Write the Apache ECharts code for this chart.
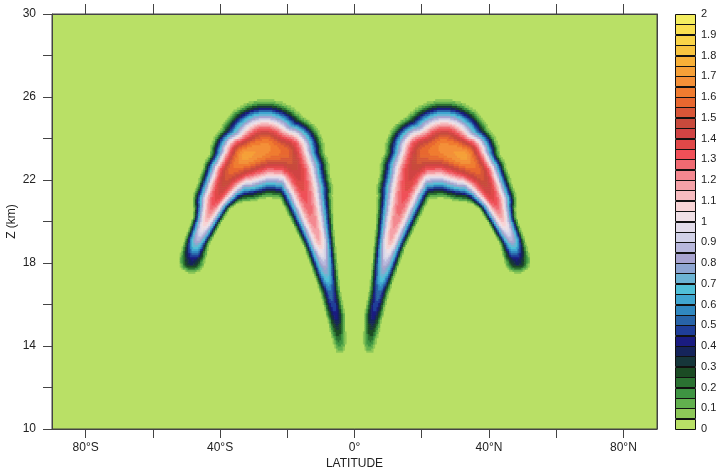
<!DOCTYPE html>
<html>
<head>
<meta charset="utf-8">
<title>Z / latitude section</title>
<script src="https://cdn.jsdelivr.net/npm/echarts@6/dist/echarts.min.js"></script>
<style>
  html, body { margin: 0; padding: 0; background: #fff; }
  #chart { width: 721px; height: 473px; }
</style>
</head>
<body>
<div id="chart"></div>
<script>
// contour bands 0 .. 2, step 0.05 (index 0 = 0-0.05)
const levelStep = 0.05
const levelColors = [
  '#b9e066', '#8dc858', '#62b04e', '#3e9442', '#2b7232', '#1b4b24', '#16363a', '#15245a',
  '#1a1c80', '#1f3e98', '#2864a8', '#3088c0', '#40a6d0', '#50c0d8', '#6cb4d4', '#8ea6d2',
  '#a8a4d0', '#b8b8dc', '#d2d2e8', '#e2dcea', '#f0e0e6', '#f8d4d6', '#f7bcc0', '#f5a2a8',
  '#f48890', '#f06a72', '#f05058', '#e04848', '#d04444', '#c84a3c', '#d85638', '#e86830',
  '#f07c30', '#f49038', '#f6a038', '#f8b038', '#f8c440', '#fad448', '#fae050', '#f4ee60'
]

// ridge of each arch:
// [lat, z (km), peak value, half width on outer side (km), half width on inner side (km)]
const southArch = [
  [-48.4, 18.15, 0.4, 0.72, 0.72],
  [-46.86, 19.11, 0.85, 0.62, 0.65],
  [-44.2, 19.98, 1.1, 0.72, 0.68],
  [-41.5, 20.99, 1.35, 1.15, 0.84],
  [-37.34, 22.34, 1.55, 1.35, 1.6],
  [-32.58, 23.2, 1.72, 1.8, 2.35],
  [-26.63, 23.54, 1.68, 2.47, 2.47],
  [-20.68, 23.35, 1.58, 2.0, 2.38],
  [-17.4, 22.48, 1.45, 1.68, 1.52],
  [-15.32, 21.52, 1.35, 1.5, 1.25],
  [-10.56, 19.11, 1.15, 0.8, 0.85],
  [-7.29, 16.70, 0.55, 0.52, 0.54],
  [-5.5, 15.40, 0.42, 0.5, 0.5],
  [-4.31, 13.95, 0.15, 0.35, 0.35]
]
const northArch = [
  [48.4, 18.15, 0.4, 0.72, 0.72],
  [46.86, 19.11, 0.85, 0.62, 0.65],
  [44.2, 19.98, 1.1, 0.72, 0.68],
  [41.5, 20.99, 1.35, 1.15, 0.84],
  [37.34, 22.34, 1.55, 1.35, 1.6],
  [32.58, 23.2, 1.72, 1.8, 2.35],
  [26.63, 23.54, 1.68, 2.47, 2.47],
  [20.68, 23.35, 1.58, 2.0, 2.38],
  [17.4, 22.48, 1.45, 1.68, 1.52],
  [15.32, 21.52, 1.35, 1.5, 1.25],
  [10.56, 19.11, 1.15, 0.8, 0.85],
  [7.29, 16.70, 0.55, 0.52, 0.54],
  [5.5, 15.40, 0.42, 0.5, 0.5],
  [4.31, 13.95, 0.15, 0.35, 0.35]
]

const latTicks = [-80, -60, -40, -20, 0, 20, 40, 60, 80]
const latLabelValues = [-80, -40, 0, 40, 80]
const latLabelText = ['80°S', '40°S', '0°', '40°N', '80°N']
const zLabelValues = [10, 14, 18, 22, 26, 30]

// sampling of the section
const DLAT = 0.5
const DZ = 0.1
const KM_PER_DEG = 0.162 // screen aspect, lat degree vs km

// ridge in screen-like units plus the tangent at every vertex
function prepareArch(arch) {
  const pts = arch.map(p => [p[0] * KM_PER_DEG, p[1]])
  const dirs = []
  for (let i = 0; i < pts.length - 1; i++) {
    const dx = pts[i + 1][0] - pts[i][0]
    const dy = pts[i + 1][1] - pts[i][1]
    const l = Math.sqrt(dx * dx + dy * dy)
    dirs.push([dx / l, dy / l])
  }
  const tans = pts.map((p, i) => {
    const a = dirs[Math.max(0, i - 1)]
    const b = dirs[Math.min(dirs.length - 1, i)]
    return [a[0] + b[0], a[1] + b[1]]
  })
  return { arch, pts, tans }
}

// outerSign: +1 when the outer side lies left of the listed direction
function archValue(ridge, outerSign, lat, z) {
  const { arch, pts, tans } = ridge
  let best = 0
  const x = lat * KM_PER_DEG
  for (let i = 0; i < arch.length - 1; i++) {
    const a = arch[i]
    const b = arch[i + 1]
    const [ax, ay] = pts[i]
    const vx = pts[i + 1][0] - ax
    const vy = pts[i + 1][1] - ay
    let t = ((x - ax) * vx + (z - ay) * vy) / (vx * vx + vy * vy)
    t = Math.max(0, Math.min(1, t))
    const dx = x - (ax + t * vx)
    const dy = z - (ay + t * vy)
    const d = Math.sqrt(dx * dx + dy * dy)
    let tx = vx
    let ty = vy
    if (t === 0) { tx = tans[i][0]; ty = tans[i][1] }
    if (t === 1) { tx = tans[i + 1][0]; ty = tans[i + 1][1] }
    const outer = (tx * dy - ty * dx) * outerSign > 0
    const amp = a[2] + t * (b[2] - a[2])
    const w = outer ? a[3] + t * (b[3] - a[3]) : a[4] + t * (b[4] - a[4])
    if (d < w) {
      const q = 1 - (d / w) * (d / w)
      const v = amp * Math.pow(q, 1.5)
      if (v > best) best = v
    }
  }
  return best
}

const southRidge = prepareArch(southArch)
const northRidge = prepareArch(northArch)

// row runs of equal band: [latStart, latEnd, z, band]
const cells = []
for (let z = 10 + DZ / 2; z < 30; z += DZ) {
  let runStart = null
  let runLevel = 0
  for (let lat = -90; lat <= 90; lat += DLAT) {
    let level = 0
    if (lat < 90) {
      const c = lat + DLAT / 2
      const v = Math.max(archValue(southRidge, 1, c, z), archValue(northRidge, -1, c, z))
      level = Math.min(levelColors.length - 1, Math.floor(v / levelStep))
    }
    if (level !== runLevel) {
      if (runLevel > 0) cells.push([runStart, lat, z, runLevel])
      runStart = lat
      runLevel = level
    }
  }
}

const barData = levelColors.map((c, i) => [i * levelStep, (i + 1) * levelStep, i])

const chart = echarts.init(document.getElementById('chart'), null, { renderer: 'canvas' })

const lineColor = '#444'
const textColor = '#222'

chart.setOption({
  animation: false,
  textStyle: { fontFamily: 'Liberation Sans' },
  grid: [
    {
      left: 52, top: 14, width: 605, height: 415,
      containLabel: false, outerBoundsMode: 'none',
      show: true, backgroundColor: levelColors[0], borderColor: lineColor, borderWidth: 1
    },
    { left: 675, top: 14, width: 20, height: 415, containLabel: false, outerBoundsMode: 'none' }
  ],
  xAxis: [
    {
      gridIndex: 0,
      type: 'value',
      position: 'bottom',
      min: -90,
      max: 90,
      axisLine: { show: true, onZero: false, lineStyle: { color: lineColor } },
      axisTick: { show: true, customValues: latTicks, length: 9, lineStyle: { color: lineColor } },
      axisLabel: {
        customValues: latLabelValues,
        margin: 13,
        color: textColor,
        fontSize: 12,
        formatter: v => latLabelText[latLabelValues.indexOf(Math.round(v))]
      },
      splitLine: { show: false },
      name: 'LATITUDE',
      nameLocation: 'middle',
      nameGap: 29,
      nameMoveOverlap: false,
      nameTextStyle: { color: textColor, fontSize: 12 }
    },
    {
      gridIndex: 0,
      type: 'value',
      position: 'top',
      min: -90,
      max: 90,
      axisLine: { show: true, onZero: false, lineStyle: { color: lineColor } },
      axisTick: { show: true, customValues: latTicks, length: 10, lineStyle: { color: lineColor } },
      axisLabel: { show: false },
      splitLine: { show: false }
    },
    { gridIndex: 1, type: 'value', min: 0, max: 1, show: false }
  ],
  yAxis: [
    {
      gridIndex: 0,
      type: 'value',
      position: 'left',
      min: 10,
      max: 30,
      interval: 2,
      axisLine: { show: true, onZero: false, lineStyle: { color: lineColor } },
      axisTick: { show: true, length: 9, lineStyle: { color: lineColor } },
      axisLabel: {
        customValues: zLabelValues,
        margin: 16,
        color: textColor,
        fontSize: 12
      },
      splitLine: { show: false },
      name: 'Z (km)',
      nameLocation: 'middle',
      nameGap: 34,
      nameRotate: 90,
      nameMoveOverlap: false,
      nameTextStyle: { color: textColor, fontSize: 12 }
    },
    {
      gridIndex: 0,
      type: 'value',
      position: 'right',
      min: 10,
      max: 30,
      axisLine: { show: true, onZero: false, lineStyle: { color: lineColor } },
      axisTick: { show: false },
      axisLabel: { show: false },
      splitLine: { show: false }
    },
    {
      gridIndex: 1,
      type: 'value',
      position: 'right',
      min: 0,
      max: 2,
      interval: 0.1,
      axisLine: { show: false },
      axisTick: { show: false },
      axisLabel: { margin: 6, color: textColor, fontSize: 11 },
      splitLine: { show: false }
    }
  ],
  series: [
    {
      type: 'custom',
      xAxisIndex: 0,
      yAxisIndex: 0,
      clip: true,
      encode: { x: [0, 1], y: 2 },
      data: cells,
      renderItem(params, api) {
        const p0 = api.coord([api.value(0), api.value(2) + DZ / 2])
        const p1 = api.coord([api.value(1), api.value(2) - DZ / 2])
        return {
          type: 'rect',
          shape: { x: p0[0], y: p0[1], width: p1[0] - p0[0] + 0.5, height: p1[1] - p0[1] + 0.5 },
          style: { fill: levelColors[api.value(3)] }
        }
      }
    },
    {
      type: 'custom',
      xAxisIndex: 2,
      yAxisIndex: 2,
      encode: { y: [0, 1] },
      data: barData,
      renderItem(params, api) {
        const p0 = api.coord([0, api.value(1)])
        const p1 = api.coord([1, api.value(0)])
        return {
          type: 'rect',
          shape: {
            x: Math.round(p0[0]) + 0.5,
            y: Math.round(p0[1]) + 0.5,
            width: Math.round(p1[0] - p0[0]),
            height: Math.round(p1[1] - p0[1])
          },
          style: { fill: levelColors[api.value(2)], stroke: '#111', lineWidth: 1 }
        }
      }
    }
  ]
})
</script>
</body>
</html>
